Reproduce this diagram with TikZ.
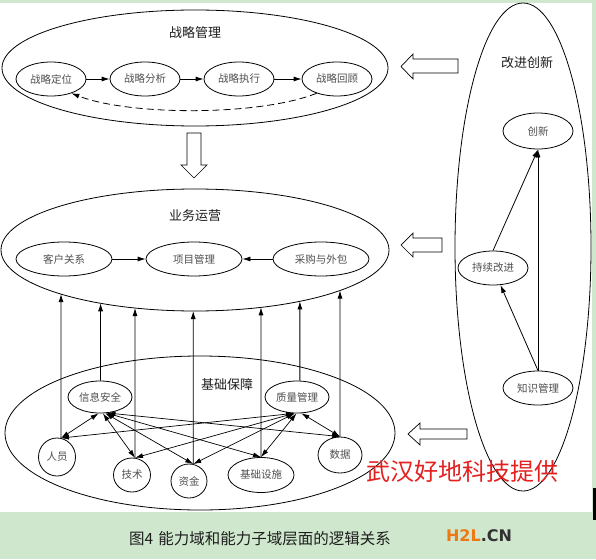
\documentclass[tikz,border=0pt]{standalone}
\usepackage{fontspec}
\setmainfont{Liberation Serif}
\newfontfamily\cjk{Noto Sans CJK SC}
\newfontfamily\logofont{DejaVu Sans}
\usetikzlibrary{shapes.geometric,arrows.meta,intersections}
\definecolor{bggreen}{RGB}{207,231,205}
\definecolor{labelgray}{RGB}{80,80,80}
\definecolor{titleblack}{RGB}{30,30,30}
\definecolor{wmred}{RGB}{228,32,32}
\definecolor{logoorange}{RGB}{240,120,20}
\definecolor{logogray}{RGB}{50,50,50}
\begin{document}
\begin{tikzpicture}[x=1pt,y=-1pt,
  ell/.style={draw, ellipse, inner sep=0pt, line width=0.8pt},
  sub/.style={ell, font=\cjk\fontsize{10.5}{12}\selectfont, text=labelgray},
  titletext/.style={font=\cjk\fontsize{13}{15}\selectfont, text=titleblack},
  arr/.style={-{Latex[length=8pt,width=5pt]}, line width=0.8pt},
  darr/.style={{Latex[length=8pt,width=5pt]}-{Latex[length=8pt,width=5pt]}, line width=0.7pt},
  blockarrow/.style={draw, fill=white, line width=0.7pt, line join=miter}]
\useasboundingbox (0,0) rectangle (596,559);
\fill[bggreen] (0,0) rectangle (596,559);
\fill[white] (0,3) rectangle (592,512);
\fill[black] (593,488) rectangle (596,520);

% ---------- strategy management ----------
\node[ell, minimum width=386, minimum height=116] (strat) at (195,68) {};
\node[titletext] (stratT) at (195,33) {战略管理};
\node[sub, minimum width=70, minimum height=34] (pos) at (51,79) {战略定位};
\node[sub, minimum width=70, minimum height=34] (ana) at (145,79) {战略分析};
\node[sub, minimum width=70, minimum height=34] (exe) at (239,79) {战略执行};
\node[sub, minimum width=70, minimum height=34] (rev) at (337,79) {战略回顾};
\draw[arr] (pos) -- (ana);
\draw[arr] (ana) -- (exe);
\draw[arr] (exe) -- (rev);
\draw[arr, dash pattern=on 7pt off 4pt] (rev.-145) .. controls (260,116) and (130,116) .. (pos.-35);

% block arrow down
\draw[blockarrow] (187,133) -- (201,133) -- (201,165) -- (207,165) -- (194,178) -- (181,165) -- (187,165) -- cycle;

% ---------- business operations ----------
\node[ell, minimum width=388, minimum height=122] (ops) at (195,250) {};
\path[name path=opsP] (195,250) ellipse [x radius=194, y radius=61];
\node[titletext] (opsT) at (195,216) {业务运营};
\node[sub, minimum width=96, minimum height=34] (cust) at (64,259) {客户关系};
\node[sub, minimum width=96, minimum height=34] (proj) at (194,259) {项目管理};
\node[sub, minimum width=96, minimum height=34] (purch) at (321,259) {采购与外包};
\draw[arr] (cust) -- (proj);
\draw[arr] (purch) -- (proj);

% ---------- infrastructure ----------
\node[ell, minimum width=390, minimum height=154] (base) at (200,433) {};
\node[titletext] (baseT) at (227,385) {基础保障};
\node[sub, minimum width=64, minimum height=32] (info) at (100,397) {信息安全};
\node[sub, minimum width=64, minimum height=32] (qual) at (297,397) {质量管理};
\node[sub, minimum width=37, minimum height=38] (person) at (57,457) {人员};
\node[sub, minimum width=37, minimum height=34] (tech) at (132,475) {技术};
\node[sub, minimum width=36, minimum height=34] (fund) at (189,481) {资金};
\node[sub, minimum width=66, minimum height=35] (infra) at (261,475) {基础设施};
\node[sub, minimum width=44, minimum height=36] (data) at (340,455) {数据};

% vertical arrows up to business operations
\foreach \n/\a in {person/78, info/88, tech/80, fund/76, infra/90, qual/80, data/90} {
  \path[name path=vline] (\n.\a) -- (\n.\a |- 0,250);
  \path[name intersections={of=opsP and vline, by={tip-\n}}];
  \draw[arr] (\n.\a) -- (tip-\n);
}

% double arrows
\draw[darr] (info.-95) -- (person.78);
\draw[darr] (info.-80) -- (tech.80);
\draw[darr] (info.-72) -- (fund.76);
\draw[darr] (info.-68) -- (infra.90);
\draw[darr] (info.-65) -- (data.90);
\draw[darr] (qual.-100) -- (person.78);
\draw[darr] (qual.-100) -- (tech.80);
\draw[darr] (qual.-98) -- (fund.76);
\draw[darr] (qual.-92) -- (infra.90);
\draw[darr] (qual.-75) -- (data.90);

% ---------- improvement & innovation ----------
\node[ell, minimum width=136, minimum height=488] (impr) at (523,247) {};
\node[titletext] (imprT) at (527,63) {改进创新};
\node[sub, minimum width=70, minimum height=36] (innov) at (538,131) {创新};
\node[sub, minimum width=70, minimum height=34] (cont) at (493,268) {持续改进};
\node[sub, minimum width=70, minimum height=34] (know) at (538,388) {知识管理};
\draw[arr] (know.north) -- (innov.south);
\draw[arr] (cont.north) -- (innov.south);
\draw[arr] (know.north) -- (cont);

% block arrows left
\draw[blockarrow] (458,59) -- (413,59) -- (413,54) -- (401,66.5) -- (413,79) -- (413,73) -- (458,73) -- cycle;
\draw[blockarrow] (442,238) -- (413,238) -- (413,233) -- (401,245) -- (413,257) -- (413,252) -- (442,252) -- cycle;
\draw[blockarrow] (467,429) -- (420,429) -- (420,423) -- (408,434) -- (420,445) -- (420,439) -- (467,439) -- cycle;

% watermark, caption, logo
\node[font=\cjk\fontsize{24}{26}\selectfont, text=wmred] (wm) at (462,471) {武汉好地科技提供};
\node[font=\cjk\fontsize{15.5}{17}\selectfont, text=titleblack] (cap) at (260,539) {图4\hspace{5pt}能力域和能力子域层面的逻辑关系};
\node[font=\logofont\bfseries\fontsize{16}{18}\selectfont] (logo) at (479,535.5) {\textcolor{logoorange}{H2L}\textcolor{logogray}{.CN}};
\end{tikzpicture}
\end{document}
